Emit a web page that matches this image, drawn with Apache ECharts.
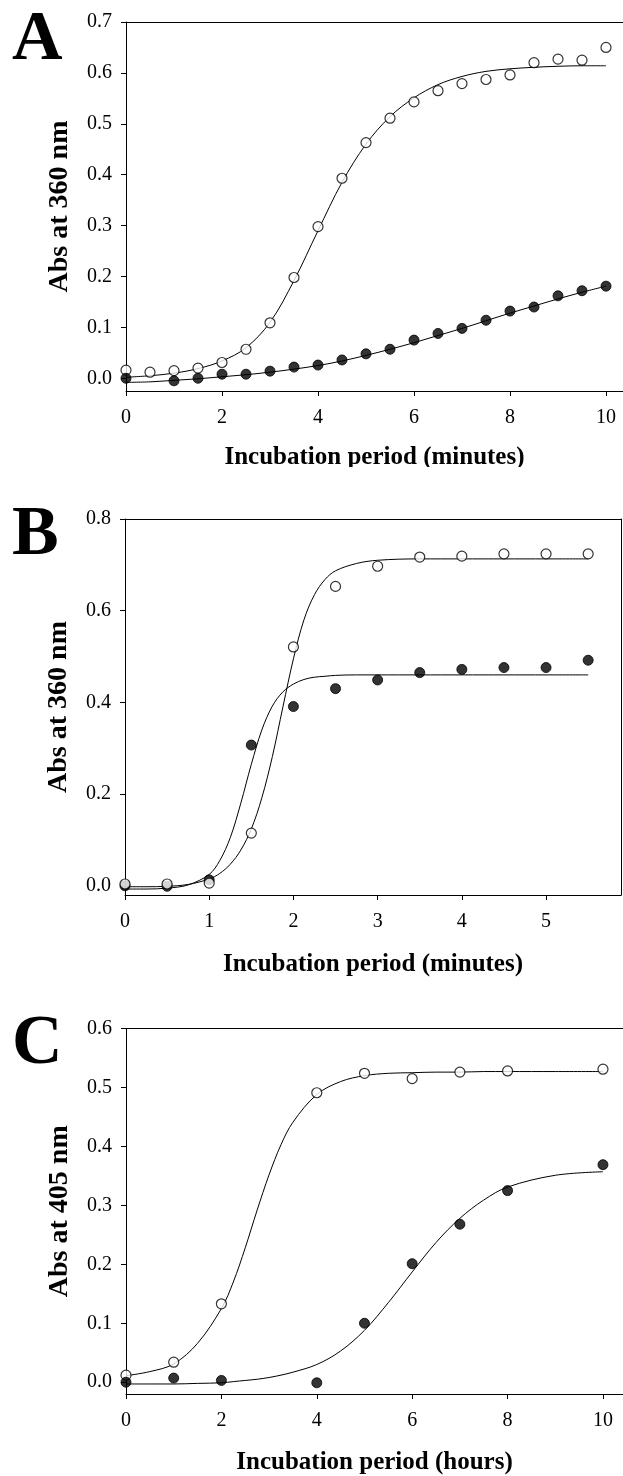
<!DOCTYPE html>
<html>
<head>
<meta charset="utf-8">
<script src="https://cdn.jsdelivr.net/npm/echarts@6/dist/echarts.min.js"></script>
<style>
  html, body { margin: 0; padding: 0; background: #fff; }
  #chart { width: 623px; height: 1476px; }
</style>
</head>
<body>
<div id="chart"></div>
<script>
// Panel A - Abs at 360 nm vs minutes
const aOpenX = [0, 0.5, 1, 1.5, 2, 2.5, 3, 3.5, 4, 4.5, 5, 5.5, 6, 6.5, 7, 7.5, 8, 8.5, 9, 9.5, 10];
const aOpen = [0.016, 0.012, 0.015, 0.020, 0.031, 0.057, 0.109, 0.198, 0.298, 0.393, 0.463, 0.511, 0.543, 0.565, 0.579, 0.587, 0.596, 0.620, 0.627, 0.625, 0.650];
const aFilledX = [0, 1, 1.5, 2, 2.5, 3, 3.5, 4, 4.5, 5, 5.5, 6, 6.5, 7, 7.5, 8, 8.5, 9, 9.5, 10];
const aFilled = [0.000, -0.005, 0.000, 0.008, 0.008, 0.014, 0.022, 0.026, 0.036, 0.048, 0.057, 0.075, 0.088, 0.098, 0.114, 0.132, 0.140, 0.162, 0.172, 0.181];
const aFitX = [0, 0.5, 1, 1.5, 2, 2.5, 3, 3.5, 4, 4.5, 5, 5.5, 6, 6.5, 7, 7.5, 8, 8.5, 9, 9.5, 10];
const aOpenFit = [0.002, 0.005, 0.010, 0.019, 0.034, 0.060, 0.110, 0.192, 0.290, 0.385, 0.460, 0.514, 0.551, 0.577, 0.593, 0.603, 0.608, 0.611, 0.613, 0.614, 0.614];
const aFilledFit = [-0.008, -0.007, -0.004, -0.001, 0.003, 0.007, 0.012, 0.018, 0.025, 0.034, 0.045, 0.057, 0.070, 0.084, 0.098, 0.113, 0.128, 0.142, 0.156, 0.169, 0.181];
const aXTicks = [0, 2, 4, 6, 8, 10];
const aYTicks = [0, 0.1, 0.2, 0.3, 0.4, 0.5, 0.6, 0.7];

// Panel B - Abs at 360 nm vs minutes
const bOpenX = [0, 0.5, 1, 1.5, 2, 2.5, 3, 3.5, 4, 4.5, 5, 5.5];
const bOpen = [0.004, 0.004, 0.006, 0.115, 0.521, 0.653, 0.697, 0.717, 0.719, 0.724, 0.724, 0.724];
const bFilledX = [0, 0.5, 1, 1.5, 2, 2.5, 3, 3.5, 4, 4.5, 5, 5.5];
const bFilled = [0.000, -0.001, 0.013, 0.307, 0.391, 0.430, 0.449, 0.465, 0.472, 0.476, 0.476, 0.492];
const bFitX = [0, 0.25, 0.5, 0.75, 1, 1.125, 1.25, 1.375, 1.5, 1.625, 1.75, 1.875, 2, 2.125, 2.25, 2.375, 2.5, 2.75, 3, 3.5, 4, 4.5, 5, 5.5];
const bOpenFit = [-0.002, -0.002, -0.001, 0.003, 0.015, 0.027, 0.047, 0.078, 0.124, 0.192, 0.282, 0.390, 0.495, 0.580, 0.635, 0.668, 0.687, 0.703, 0.710, 0.713, 0.713, 0.713, 0.713, 0.713];
const bFilledFit = [-0.007, -0.007, -0.005, 0.002, 0.025, 0.055, 0.105, 0.180, 0.265, 0.340, 0.392, 0.423, 0.440, 0.450, 0.455, 0.457, 0.459, 0.460, 0.460, 0.460, 0.460, 0.460, 0.460, 0.460];
const bXTicks = [0, 1, 2, 3, 4, 5];
const bYTicks = [0, 0.2, 0.4, 0.6, 0.8];

// Panel C - Abs at 405 nm vs hours
const cX = [0, 1, 2, 4, 5, 6, 7, 8, 10];
const cOpen = [0.012, 0.034, 0.133, 0.491, 0.524, 0.515, 0.526, 0.528, 0.531];
const cFilled = [0.000, 0.007, 0.003, -0.001, 0.100, 0.201, 0.268, 0.325, 0.369];
const cFitX = [0, 0.5, 1, 1.5, 2, 2.25, 2.5, 2.75, 3, 3.25, 3.5, 4, 4.5, 5, 5.5, 6, 6.5, 7, 7.5, 8, 9, 10];
const cOpenFit = [0.011, 0.018, 0.031, 0.066, 0.125, 0.170, 0.228, 0.292, 0.352, 0.403, 0.441, 0.488, 0.510, 0.520, 0.524, 0.525, 0.526, 0.526, 0.527, 0.527, 0.527, 0.527];
const cFilledFit = [-0.003, -0.003, -0.003, -0.002, -0.001, 0.001, 0.003, 0.005, 0.008, 0.012, 0.017, 0.030, 0.053, 0.088, 0.135, 0.187, 0.237, 0.278, 0.309, 0.331, 0.351, 0.357];
const cXTicks = [0, 2, 4, 6, 8, 10];
const cYTicks = [0, 0.1, 0.2, 0.3, 0.4, 0.5, 0.6];

const SERIF = "Liberation Serif";
const pair = (xs, ys) => xs.map((x, i) => [x, ys[i]]);

const chart = echarts.init(document.getElementById("chart"), null, { renderer: "canvas" });

function xAxisMain(grid, max, ticks, name, gap) {
  return {
    type: "value",
    gridIndex: grid,
    min: 0,
    max: max,
    position: "bottom",
    splitLine: { show: false },
    axisLine: { onZero: false, lineStyle: { color: "#000", width: 1 } },
    axisTick: { length: 5, customValues: ticks, lineStyle: { color: "#000" } },
    axisLabel: {
      customValues: ticks,
      margin: 17,
      fontFamily: SERIF,
      fontSize: 20,
      color: "#000",
      formatter: (v) => String(v),
    },
    name: name,
    nameLocation: "middle",
    nameGap: gap,
    nameTextStyle: { fontFamily: SERIF, fontWeight: "bold", fontSize: 25, color: "#000" },
  };
}

function xAxisTop(grid, max) {
  return {
    type: "value",
    gridIndex: grid,
    min: 0,
    max: max,
    position: "top",
    splitLine: { show: false },
    axisLine: { onZero: false, lineStyle: { color: "#000", width: 1 } },
    axisTick: { show: false },
    axisLabel: { show: false },
  };
}

function yAxisMain(grid, min, max, ticks, name) {
  return {
    type: "value",
    gridIndex: grid,
    min: min,
    max: max,
    position: "left",
    splitLine: { show: false },
    axisLine: { onZero: false, lineStyle: { color: "#000", width: 1 } },
    axisTick: { length: 5, customValues: ticks, lineStyle: { color: "#000" } },
    axisLabel: {
      customValues: ticks,
      margin: 14,
      fontFamily: SERIF,
      fontSize: 20,
      color: "#000",
      formatter: (v) => v.toFixed(1),
    },
    name: name,
    nameLocation: "middle",
    nameGap: 52,
    nameTextStyle: { fontFamily: SERIF, fontWeight: "bold", fontSize: 28, color: "#000" },
  };
}

function fitLine(xi, yi, data) {
  return {
    type: "line",
    xAxisIndex: xi,
    yAxisIndex: yi,
    data: data,
    smooth: 0.35,
    showSymbol: false,
    silent: true,
    lineStyle: { color: "#000", width: 1 },
    z: 2,
  };
}

function dots(xi, yi, data, open) {
  return {
    type: "scatter",
    xAxisIndex: xi,
    yAxisIndex: yi,
    data: data,
    symbol: "circle",
    symbolSize: 10,
    itemStyle: open
      ? { color: "#fff", borderColor: "#000", borderWidth: 1.2 }
      : { color: "#000", borderColor: "#000", borderWidth: 1 },
    z: 3,
  };
}

const option = {
  animation: false,
  backgroundColor: "#fff",
  grid: [
    { left: 126, top: 22, width: 497, height: 369 },
    { left: 125, top: 519, width: 496, height: 376 },
    { left: 126, top: 1028.5, width: 497, height: 369.5 },
  ],
  xAxis: [
    xAxisMain(0, 10.354, aXTicks, "Incubation period (minutes)", 54),
    xAxisTop(0, 10.354),
    xAxisMain(1, 5.89, bXTicks, "Incubation period (minutes)", 57),
    xAxisTop(1, 5.89),
    xAxisMain(2, 10.42, cXTicks, "Incubation period (hours)", 56),
    xAxisTop(2, 10.42),
  ],
  yAxis: [
    yAxisMain(0, -0.025, 0.7, aYTicks, "Abs at 360 nm"),
    yAxisMain(1, -0.02, 0.8, bYTicks, "Abs at 360 nm"),
    {
      type: "value",
      gridIndex: 1,
      min: -0.02,
      max: 0.8,
      position: "right",
      splitLine: { show: false },
      axisLine: { onZero: false, lineStyle: { color: "#000", width: 1 } },
      axisTick: { show: false },
      axisLabel: { show: false },
    },
    yAxisMain(2, -0.02, 0.6, cYTicks, "Abs at 405 nm"),
  ],
  series: [
    fitLine(0, 0, pair(aFitX, aOpenFit)),
    fitLine(0, 0, pair(aFitX, aFilledFit)),
    dots(0, 0, pair(aOpenX, aOpen), true),
    dots(0, 0, pair(aFilledX, aFilled), false),

    fitLine(2, 1, pair(bFitX, bOpenFit)),
    fitLine(2, 1, pair(bFitX, bFilledFit)),
    dots(2, 1, pair(bFilledX, bFilled), false),
    dots(2, 1, pair(bOpenX, bOpen), true),

    fitLine(4, 3, pair(cFitX, cOpenFit)),
    fitLine(4, 3, pair(cFitX, cFilledFit)),
    dots(4, 3, pair(cX, cOpen), true),
    dots(4, 3, pair(cX, cFilled), false),
  ],
  graphic: [
    // the first x axis title is cut off at the bottom in the original figure
    { type: "rect", left: 0, top: 467, shape: { width: 623, height: 20 }, style: { fill: "#fff" }, z: 100 },
    { type: "text", left: 12, top: 6, style: { text: "A", font: "bold 70px " + SERIF, fill: "#000" }, z: 100 },
    { type: "text", left: 12, top: 501, style: { text: "B", font: "bold 70px " + SERIF, fill: "#000" }, z: 100 },
    { type: "text", left: 12, top: 1010, style: { text: "C", font: "bold 70px " + SERIF, fill: "#000" }, z: 100 },
  ],
};

chart.setOption(option);
</script>
</body>
</html>
